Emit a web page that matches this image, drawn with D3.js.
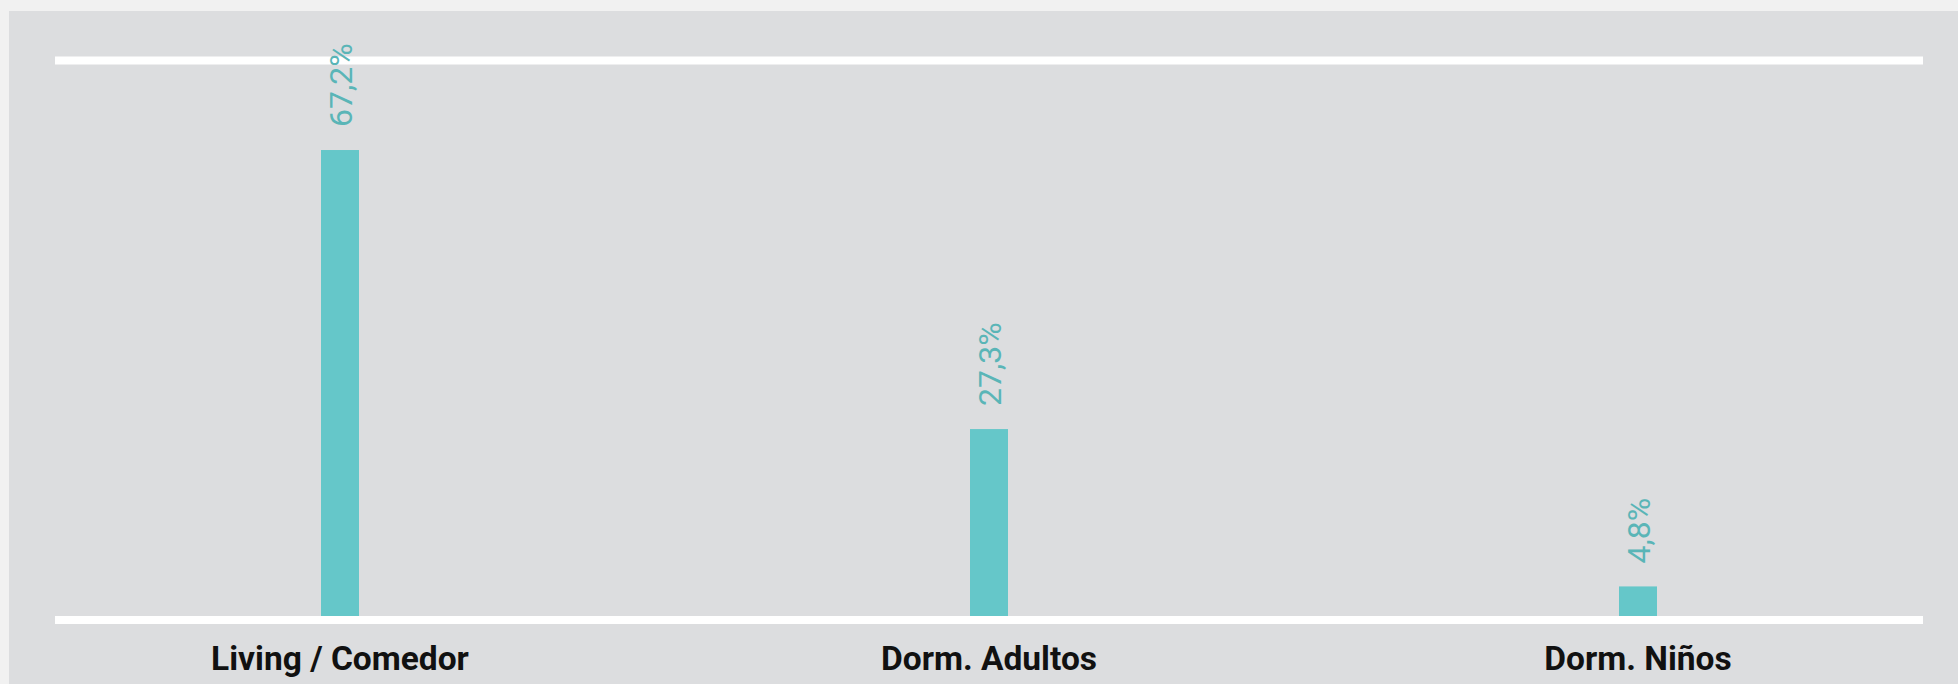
<!DOCTYPE html>
<html>
<head>
<meta charset="utf-8">
<script src="https://cdn.jsdelivr.net/npm/d3@7"></script>
<style>
    html, body { margin: 0; padding: 0; background: #f1f1f1; }
    svg { display: block; }
</style>
</head>
<body>
<script>
/* global d3 */

var categories = ["Living / Comedor", "Dorm. Adultos", "Dorm. Niños"];
var values = [67.2, 27.3, 4.8];
var valueLabels = ["67,2%", "27,3%", "4,8%"];
var gridValues = [0, 80];

var width = 1958,
        height = 684;

var svg = d3.select("body")
        .append("svg")
        .attr("width", width)
        .attr("height", height);

// grey panel
svg.append("rect")
        .attr("x", 9)
        .attr("y", 11)
        .attr("width", width - 9)
        .attr("height", height - 11)
        .attr("fill", "#dcdddf");

var x = d3.scalePoint().domain(categories).range([340, 1638]),
        y = d3.scaleLinear().domain([0, 80]).range([620, 60.5]);

var barWidth = 38;

var data = categories.map(function (c, i) {
    return {cat: c, value: values[i], label: valueLabels[i]};
});

svg.selectAll(".bar")
        .data(data)
        .enter().append("rect")
        .classed("bar", true)
        .attr("x", function (d) {
            return x(d.cat) - barWidth / 2;
        })
        .attr("y", function (d) {
            return y(d.value);
        })
        .attr("width", barWidth)
        .attr("height", function (d) {
            return y(0) - y(d.value);
        })
        .attr("fill", "#65c7c9");

// white lines at 0 and at the top of the scale, drawn over the bars
svg.selectAll(".grid")
        .data(gridValues)
        .enter().append("line")
        .classed("grid", true)
        .attr("x1", 55)
        .attr("x2", 1923)
        .attr("y1", function (d) {
            return y(d);
        })
        .attr("y2", function (d) {
            return y(d);
        })
        .attr("stroke", "#ffffff")
        .attr("stroke-width", 8);

svg.selectAll(".value")
        .data(data)
        .enter().append("text")
        .classed("value", true)
        .attr("transform", function (d) {
            return "translate(" + (x(d.cat) + 12) + "," + (y(d.value) - 23) + ") rotate(-90)";
        })
        .attr("text-anchor", "start")
        .attr("font-family", "Roboto, sans-serif")
        .attr("font-weight", 400)
        .attr("font-size", 32)
        .attr("fill", "#5ab5b7")
        .text(function (d) {
            return d.label;
        });

svg.selectAll(".cat")
        .data(data)
        .enter().append("text")
        .classed("cat", true)
        .attr("x", function (d) {
            return x(d.cat);
        })
        .attr("y", 670)
        .attr("text-anchor", "middle")
        .attr("font-family", "Roboto, sans-serif")
        .attr("font-weight", 700)
        .attr("font-size", 33.5)
        .attr("fill", "#111111")
        .text(function (d) {
            return d.cat;
        });
</script>
</body>
</html>
